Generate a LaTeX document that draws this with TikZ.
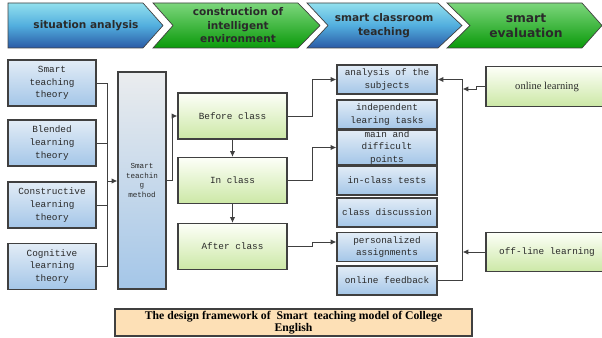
\documentclass[tikz,border=0pt]{standalone}
\usepackage{fontspec}
\setmainfont{Liberation Serif}
\newfontfamily\boxfont{Liberation Mono}
\newfontfamily\stagefont{DejaVu Sans}
\usetikzlibrary{arrows.meta, positioning, calc}

\definecolor{edge}{HTML}{404040}
\definecolor{txt}{HTML}{2A2A2A}
\definecolor{stageBlueT}{HTML}{92E0EE}
\definecolor{stageBlueM}{HTML}{52AEDE}
\definecolor{stageBlueB}{HTML}{2A5AA6}
\definecolor{stageGreenT}{HTML}{7CD67C}
\definecolor{stageGreenB}{HTML}{0A9A0A}
\definecolor{paleBlueT}{HTML}{E2ECF6}
\definecolor{paleBlueB}{HTML}{A4C6E8}
\definecolor{paleGreenT}{HTML}{FDFFF8}
\definecolor{paleGreenB}{HTML}{CCE8A6}
\definecolor{peach}{HTML}{FDE0B6}

\begin{document}
\begin{tikzpicture}[
    x=0.03cm, y=-0.03cm,
    stage/.style={draw=edge, line width=0.6pt},
    bluestage/.style={stage, top color=stageBlueT, bottom color=stageBlueB, middle color=stageBlueM},
    greenstage/.style={stage, top color=stageGreenT, bottom color=stageGreenB},
    stagetext/.style={align=center, text=txt, font=\stagefont\bfseries\fontsize{9}{11.5}\selectfont},
    box/.style={rectangle, draw=edge, line width=0.9pt, align=center, inner sep=0pt, text=txt, font=\boxfont\fontsize{8}{10.8}\selectfont},
    theory/.style={box, top color=paleBlueT, bottom color=paleBlueB, minimum width=2.64cm, minimum height=1.38cm},
    phase/.style={box, top color=paleGreenT, bottom color=paleGreenB, minimum width=3.27cm, minimum height=1.38cm},
    task/.style={box, top color=paleBlueT, bottom color=paleBlueB, minimum width=3cm, minimum height=0.87cm},
    mode/.style={box, top color=paleGreenT, bottom color=paleGreenB, minimum width=3.66cm, minimum height=1.18cm},
    link/.style={draw=edge, line width=0.8pt},
    arrow/.style={link, -{Latex[length=5pt, width=4.5pt]}}
]
\useasboundingbox (0,0) rectangle (602,338);

% Stage banner
\path[bluestage] (8,3) -- (143,3) -- (163,25.5) -- (143,48) -- (8,48) -- cycle;
\path[greenstage] (153,3) -- (298,3) -- (320,25.5) -- (298,48) -- (153,48) -- (173,25.5) -- cycle;
\path[bluestage] (307,3) -- (438,3) -- (462,25.5) -- (438,48) -- (307,48) -- (328,25.5) -- cycle;
\path[greenstage] (447,3) -- (582,3) -- (602,25.5) -- (582,48) -- (447,48) -- (470,25.5) -- cycle;
\node (stage1) [stagetext] at (86,25.5) {situation analysis};
\node (stage2) [stagetext] at (238,25.5) {construction of\\intelligent\\environment};
\node (stage3) [stagetext] at (384,25.5) {smart classroom\\teaching};
\node (stage4) [stagetext, font=\stagefont\bfseries\fontsize{10.5}{13}\selectfont] at (526,25.5) {smart\\evaluation};

% Theories
\node (smart) [theory] at (52,83) {Smart\\teaching\\theory};
\node (blended) [theory] at (52,143) {Blended\\learning\\theory};
\node (construct) [theory] at (52,205) {Constructive\\learning\\theory};
\node (cognitive) [theory] at (52,266.5) {Cognitive\\learning\\theory};

% Method
\node (method) [box, top color=paleBlueT!60!gray!30, bottom color=paleBlueB, minimum width=1.44cm, minimum height=6.51cm,
    font=\boxfont\fontsize{6.5}{8.5}\selectfont] at (142,180.5) {Smart\\teachin\\g\\method};

% Phases
\node (before) [phase] at (232.5,116) {Before class};
\node (inclass) [phase] at (232.5,180.5) {In class};
\node (after) [phase] at (232.5,246.5) {After class};

% Tasks
\node (subjects) [task] at (387,79.5) {analysis of the\\subjects};
\node (tasks) [task] at (387,114.5) {independent\\learing tasks};
\node (points) [task] at (387,147.5) {main and\\difficult\\points};
\node (tests) [task] at (387,180.5) {in-class tests};
\node (discuss) [task] at (387,212.5) {class discussion};
\node (assign) [task] at (387,247) {personalized\\assignments};
\node (feedback) [task] at (387,280.5) {online feedback};

% Learning modes
\node (online) [mode, font=\fontsize{9}{11}\selectfont] at (547,86.5) {online learning};
\node (offline) [mode] at (547,252) {off-line learning};

% Caption
\node (caption) [rectangle, draw=edge, line width=0.9pt, fill=peach, minimum width=10.71cm, minimum height=0.81cm, inner sep=0pt,
    align=center, font=\bfseries\fontsize{10}{9.8}\selectfont] at (293.5,322.5)
    {The design framework of\ \ Smart\ \ teaching model of College\\English};

% Arrows
\coordinate (bus) at (107,181);
\draw [link] (smart.east) -| (bus |- cognitive.east) -- (cognitive.east);
\draw [link] (blended.east) -- (bus |- blended.east);
\draw [link] (construct.east) -- (bus |- construct.east);
\draw [arrow] (bus) -- (method.west |- bus);
\draw [arrow] (method.east) -- ++(6,0) |- (before.west);
\draw [arrow] (before) -- (inclass);
\draw [arrow] (inclass) -- (after);
\draw [arrow] (before.east) -- ++(25,0) |- (subjects.west);
\draw [arrow] (inclass.east) -- ++(25,0) |- (points.west);
\draw [arrow] (after.east) -- ++(25,0) |- ($(assign.west)+(0,-5)$);

% Feedback loop
\draw [arrow] (feedback.east) -- ++(25,0) coordinate (fb) |- (subjects.east);
\draw [arrow] (online.west) -- ++(-9,0) -- ++(0,2.5) coordinate (oj) -- (oj -| fb);
\draw [arrow] (offline.west) -- (offline.west -| fb);

\end{tikzpicture}
\end{document}
